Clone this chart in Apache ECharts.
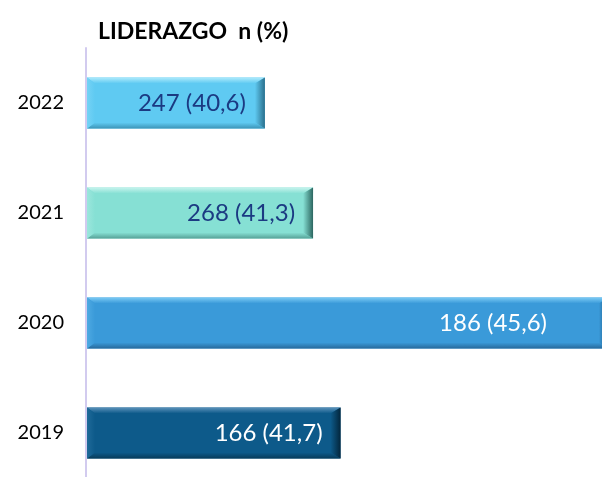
<!DOCTYPE html>
<html>
<head>
<meta charset="utf-8">
<script src="https://cdn.jsdelivr.net/npm/echarts@6/dist/echarts.min.js"></script>
<style>
html, body { margin: 0; padding: 0; background: #fff; }
#chart { width: 602px; height: 477px; }
</style>
</head>
<body>
<div id="chart"></div>
<script>
// datos
var years = ['2022', '2021', '2020', '2019'];
var counts = [247, 268, 186, 166];
var percents = [40.6, 41.3, 45.6, 41.7];

// colores de cada barra (cara, bisel superior, bisel inferior, bisel izq., bisel der.)
var faceColors = ['#5fcaf2', '#86e0d4', '#3a9ad9', '#0d5a8a'];
var topColors = ['#b0ebfc', '#c8f4ee', '#7ccbf5', '#5d93bb'];
var bottomColors = ['#3b93b6', '#55a096', '#27689a', '#073a58'];
var leftColors = ['#74d2f5', '#9be6dc', '#4ea9e2', '#1f6a99'];
var rightColors = ['#2a6f8c', '#2c6660', '#1b4b72', '#03263c'];
var labelColors = ['#1b3a82', '#1b3a82', '#ffffff', '#ffffff'];
var labelDistance = [19, 18, 55, 18];

var chart = echarts.init(document.getElementById('chart'));

function grad(x2, y2, c0, c1) {
    return {
        type: 'linear', x: 0, y: 0, x2: x2, y2: y2,
        colorStops: [{ offset: 0, color: c0 }, { offset: 1, color: c1 }]
    };
}

function bevelBar(params, api) {
    var i = params.dataIndex;
    var start = api.coord([38, api.value(1)]);
    var end = api.coord([api.value(0), api.value(1)]);
    var h = api.size([0, 1])[1] * 0.465;
    var x0 = start[0] + 1, x1 = end[0];
    var y0 = start[1] - h / 2, y1 = start[1] + h / 2;
    var bt = 6, bb = 6, bl = 8, br = 10;
    var cs = params.coordSys;
    var labelEnd = Math.min(x1, cs.x + cs.width);
    function poly(points, fill) {
        return { type: 'polygon', shape: { points: points }, style: { fill: fill } };
    }
    return {
        type: 'group',
        children: [
            { type: 'rect', shape: { x: x0, y: y0, width: x1 - x0, height: y1 - y0 }, style: { fill: faceColors[i] } },
            poly([[x0, y0], [x1, y0], [x1 - br, y0 + bt], [x0 + bl, y0 + bt]], grad(0, 1, topColors[i], faceColors[i])),
            poly([[x0, y1], [x1, y1], [x1 - br, y1 - bb], [x0 + bl, y1 - bb]], grad(0, 1, faceColors[i], bottomColors[i])),
            poly([[x0, y0], [x0 + bl, y0 + bt], [x0 + bl, y1 - bb], [x0, y1]], grad(1, 0, leftColors[i], faceColors[i])),
            poly([[x1, y0], [x1 - br, y0 + bt], [x1 - br, y1 - bb], [x1, y1]], grad(1, 0, faceColors[i], rightColors[i])),
            {
                type: 'text',
                x: labelEnd - labelDistance[i],
                y: start[1],
                style: {
                    text: counts[i] + ' (' + String(percents[i]).replace('.', ',') + ')',
                    fill: labelColors[i],
                    font: '24px Lato',
                    align: 'right',
                    verticalAlign: 'middle'
                }
            }
        ]
    };
}

var option = {
    animation: false,
    title: {
        text: 'LIDERAZGO  n (%)',
        left: 93,
        top: 15,
        textStyle: {
            fontFamily: 'Lato',
            fontSize: 23,
            fontWeight: 'bold',
            color: '#000'
        }
    },
    grid: {
        left: 86,
        right: 0,
        top: 48,
        height: 440,
        outerBoundsMode: 'none'
    },
    xAxis: {
        type: 'value',
        min: 38,
        max: 45.5,
        show: false
    },
    yAxis: {
        type: 'category',
        inverse: true,
        data: years,
        axisLine: {
            lineStyle: { color: '#d2cbef', width: 2 }
        },
        axisTick: { show: false },
        axisLabel: {
            margin: 22,
            fontFamily: 'Lato',
            fontSize: 20,
            color: '#000'
        }
    },
    series: [
        {
            type: 'custom',
            renderItem: bevelBar,
            encode: { x: 0, y: 1 },
            data: percents.map(function (p, i) { return [p, i]; })
        }
    ]
};

chart.setOption(option);
</script>
</body>
</html>
